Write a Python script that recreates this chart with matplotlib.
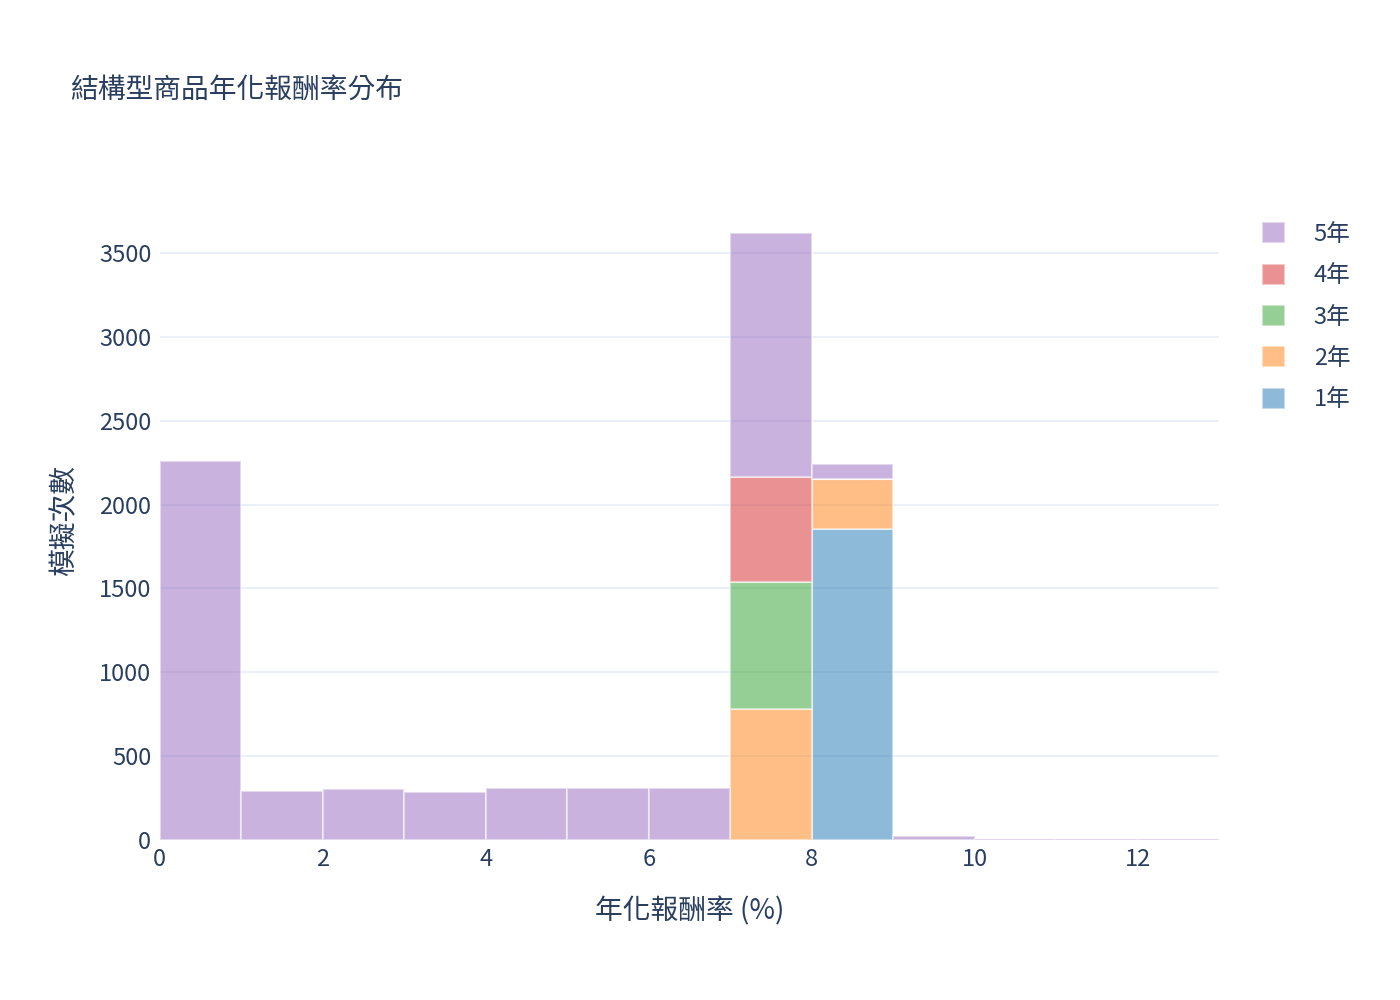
import numpy as np
import matplotlib.pyplot as plt

plt.rcParams['font.family'] = ['Noto Sans CJK TC', 'DejaVu Sans']

bin_left = np.arange(0, 13)
terms = ['1年', '2年', '3年', '4年', '5年']
colors = ['#1f77b4', '#ff7f0e', '#2ca02c', '#d62728', '#9467bd']
counts = {
    '1年': [0, 0, 0, 0, 0, 0, 0, 0, 1855, 0, 0, 0, 0],
    '2年': [0, 0, 0, 0, 0, 0, 0, 781, 298, 0, 0, 0, 0],
    '3年': [0, 0, 0, 0, 0, 0, 0, 757, 0, 0, 0, 0, 0],
    '4年': [0, 0, 0, 0, 0, 0, 0, 627, 0, 0, 0, 0, 0],
    '5年': [2260, 292, 304, 286, 310, 310, 310, 1455, 89, 22, 3, 3, 3],
}

fig = plt.figure(figsize=(14, 10), dpi=100)
ax = fig.add_axes([0.114, 0.16, 0.757, 0.639])
txt = '#2a3f5f'

bottom = np.zeros(len(bin_left))
handles = []
for t, c in zip(terms, colors):
    v = np.array(counts[t], dtype=float)
    h = ax.bar(bin_left, v, width=1, bottom=bottom, align='edge', color=c,
               alpha=0.5, edgecolor='white', linewidth=1.5, label=t)
    handles.append(h)
    bottom += v

ax.set_xlim(0, 13)
ax.set_ylim(0, 3811)
ax.set_yticks(np.arange(0, 3501, 500))
ax.set_xticks([0, 2, 4, 6, 8, 10, 12])
ax.grid(axis='y', color='#ebf0f8', linewidth=1.5)
ax.set_axisbelow(True)
for s in ax.spines.values():
    s.set_visible(False)
ax.tick_params(length=0, labelsize=17, colors=txt, pad=6)
ax.set_xlabel('年化報酬率 (%)', fontsize=20, color=txt, labelpad=18)
ax.set_ylabel('模擬次數', fontsize=20, color=txt, labelpad=14)
fig.text(0.05, 0.91, '結構型商品年化報酬率分布', fontsize=20, color=txt, va='center')

leg = ax.legend(handles[::-1], terms[::-1], loc='upper left', bbox_to_anchor=(1.02, 1.0),
                frameon=False, fontsize=17, handlelength=1.0, handleheight=1.0,
                labelspacing=0.75, handletextpad=1.2)
for t in leg.get_texts():
    t.set_color(txt)

fig.savefig('out.png')
